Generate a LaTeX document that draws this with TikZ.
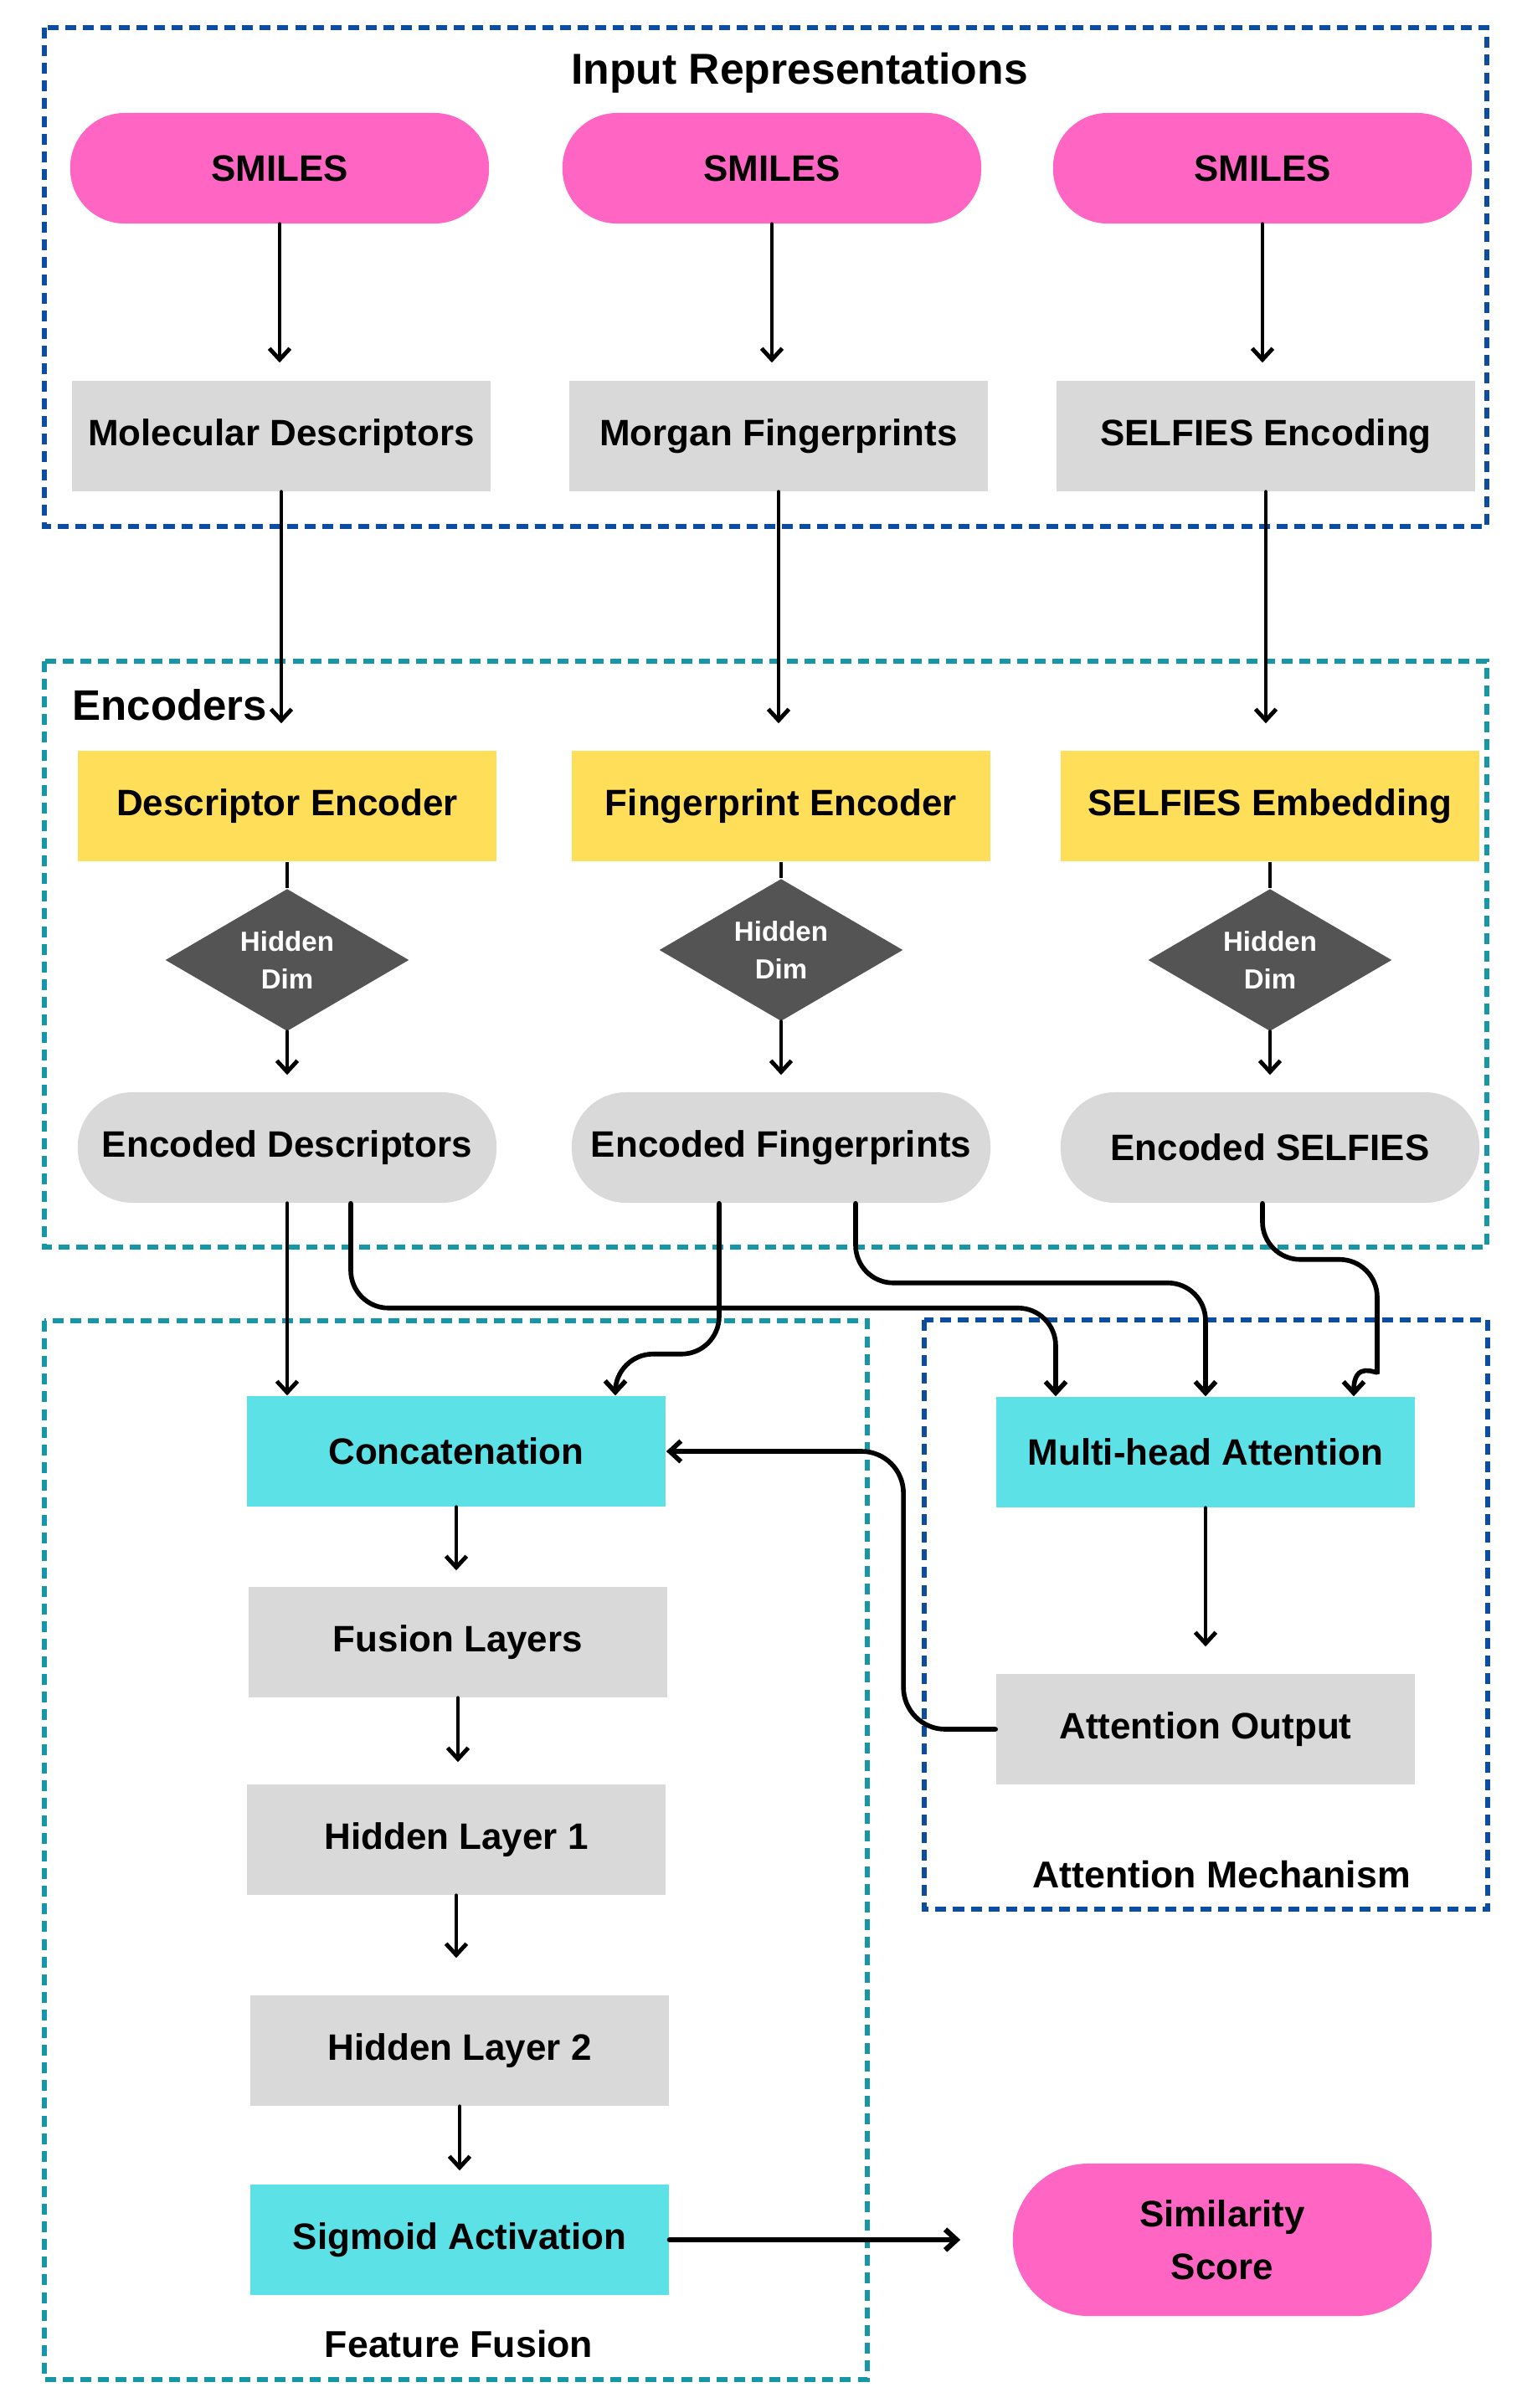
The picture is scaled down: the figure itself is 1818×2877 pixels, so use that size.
\documentclass[tikz,border=0pt]{standalone}
\usepackage{fontspec}
\setmainfont{Liberation Sans}
\usetikzlibrary{shapes.geometric,arrows.meta,calc}

\definecolor{smilespink}{HTML}{FF66C4}
\definecolor{encyellow}{HTML}{FFDE59}
\definecolor{fusecyan}{HTML}{5CE1E6}
\definecolor{boxgray}{HTML}{D9D9D9}
\definecolor{dimgray}{HTML}{545454}
\definecolor{frameblue}{HTML}{0D4DA1}
\definecolor{frameteal}{HTML}{1697A8}

\tikzset{
	blk/.style={minimum width=5cm, minimum height=1.32cm, inner sep=0pt, font=\fontsize{12.5}{15}\selectfont\bfseries},
	pill/.style={blk, fill=smilespink, rounded corners=0.65cm},
	graypill/.style={blk, fill=boxgray, rounded corners=0.65cm},
	graybox/.style={blk, fill=boxgray},
	yelbox/.style={blk, fill=encyellow},
	cyanbox/.style={blk, fill=fusecyan},
	dimnode/.style={diamond, fill=dimgray, text=white, inner sep=0pt, aspect=1.7, minimum width=2.91cm, minimum height=1.7cm, align=center, font=\fontsize{9.4}{12.8}\selectfont\bfseries},
	frame/.style={line width=1.7pt, dash pattern=on 3.7pt off 2.3pt},
	arr/.style={line width=1.4pt, line cap=round, -{Straight Barb[length=3.8pt,width=7pt]}},
	link/.style={arr, line width=1.6pt, rounded corners=0.45cm},
	grouplabel/.style={font=\fontsize{12.7}{15}\selectfont\bfseries}
}

\begin{document}
\begin{tikzpicture}[x=0.01cm, y=-0.01cm]
	\useasboundingbox (0,0) rectangle (1818,2877);

	\draw[frame, frameblue] (53,33) rectangle (1776,629);
	\draw[frame, frameteal] (53,790) rectangle (1776,1490);
	\draw[frame, frameteal] (53,1578) rectangle (1036,2843);
	\draw[frame, frameblue] (1104,1577) rectangle (1777,2281);

	\node[font=\fontsize{14.7}{17}\selectfont\bfseries] (tInput) at (955,87) {Input Representations};
	\node[font=\fontsize{14.5}{17}\selectfont\bfseries, anchor=west, inner sep=0pt] (tEnc) at (86,842) {Encoders};
	\node[grouplabel] (tFusion) at (548,2800) {Feature Fusion};
	\node[grouplabel] (tAtt) at (1459,2240) {Attention Mechanism};

	\node[pill] (smiA) at (334,201) {SMILES};
	\node[pill] (smiB) at (922,201) {SMILES};
	\node[pill] (smiC) at (1508,201) {SMILES};
	\node[graybox] (molD) at (336,521) {Molecular Descriptors};
	\node[graybox] (morF) at (930,521) {Morgan Fingerprints};
	\node[graybox] (selE) at (1512,521) {SELFIES Encoding};

	\node[yelbox] (encD) at (343,963) {Descriptor Encoder};
	\node[yelbox] (encF) at (933,963) {Fingerprint Encoder};
	\node[yelbox] (embS) at (1517,963) {SELFIES Embedding};
	\node[dimnode] (dimD) at (343,1147) {Hidden\\Dim};
	\node[dimnode] (dimF) at (933,1135) {Hidden\\Dim};
	\node[dimnode] (dimS) at (1517,1147) {Hidden\\Dim};
	\node[graypill] (codD) at (343,1371) {Encoded Descriptors};
	\node[graypill] (codF) at (933,1371) {Encoded Fingerprints};
	\node[graypill] (codS) at (1517,1371) {Encoded SELFIES};

	\node[cyanbox] (concat) at (545,1734) {Concatenation};
	\node[graybox] (fusion) at (547,1962) {Fusion Layers};
	\node[graybox] (hidA) at (545,2198) {Hidden Layer 1};
	\node[graybox] (hidB) at (549,2450) {Hidden Layer 2};
	\node[cyanbox] (sigm) at (549,2676) {Sigmoid Activation};
	\node[cyanbox] (mha) at (1440,1735) {Multi-head Attention};
	\node[graybox] (attO) at (1440,2066) {Attention Output};
	\node[pill, minimum height=1.82cm, rounded corners=0.9cm, align=center, font=\fontsize{12.5}{18}\selectfont\bfseries] (simS) at (1460,2676) {Similarity\\Score};

	\foreach \a/\b in {smiA/molD, smiB/morF, smiC/selE}
		\draw[arr, shorten >=0.21cm] (\a.south) -- (\a.south |- \b.north);
	\foreach \a/\b in {molD/encD, morF/encF, selE/embS}
		\draw[arr, shorten >=0.32cm] (\a.south) -- (\a.south |- \b.north);
	\foreach \a/\b/\c in {encD/dimD/codD, encF/dimF/codF, embS/dimS/codS} {
		\draw[line width=1.4pt] (\a.south) -- (\b.north);
		\draw[arr, shorten >=0.2cm] (\b.south) -- (\c.north);
	}

	\coordinate (codDb) at ($(codD.south)+(76,0)$);
	\coordinate (codFa) at ($(codF.south)+(-74,0)$);
	\coordinate (codFb) at ($(codF.south)+(89,0)$);
	\coordinate (codSa) at ($(codS.south)+(-9,0)$);
	\coordinate (catB) at ($(concat.north)+(190,0)$);
	\coordinate (mhaA) at ($(mha.north)+(-179,0)$);
	\coordinate (mhaC) at ($(mha.north)+(177,0)$);

	\draw[arr] (codD.south) -- (codD.south |- concat.north);
	\draw[link] (codDb) -- ++(0,125) -| (mhaA);
	\draw[link] (codFa) -- ++(0,180) -| (catB);
	\draw[link] (codFb) -- ++(0,95) -| (mha.north);
	\draw[arr, line width=1.6pt] (codSa) [rounded corners=0.45cm] -- ++(0,67) -| ($(mhaC)+(28,-74)$) [sharp corners] .. controls +(0,48) and +(0,-44) .. (mhaC);
	\draw[arr, shorten >=0.32cm] (mha.south) -- (attO.north);
	\draw[link, rounded corners=0.5cm] (attO.west) -- ++(-110,0) |- (concat.east);

	\draw[arr, shorten >=0.19cm] (concat.south) -- (concat.south |- fusion.north);
	\draw[arr, shorten >=0.26cm] (fusion.south) -- (fusion.south |- hidA.north);
	\draw[arr, shorten >=0.44cm] (hidA.south) -- (hidA.south |- hidB.north);
	\draw[arr, shorten >=0.16cm] (hidB.south) -- (hidB.south |- sigm.north);
	\draw[arr, line width=1.8pt, shorten >=0.62cm] (sigm.east) -- (simS.west);
\end{tikzpicture}
\end{document}
